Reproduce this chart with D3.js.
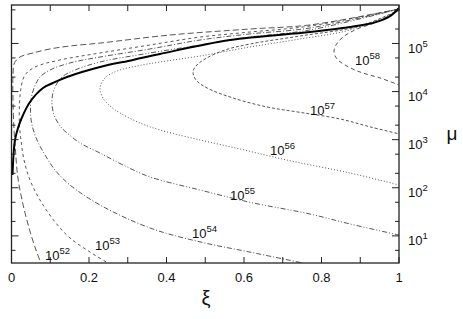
<!DOCTYPE html>
<html><head><meta charset="utf-8">
<script src="https://cdn.jsdelivr.net/npm/d3@7"></script>
<style>
html,body{margin:0;padding:0;background:#fff;}
svg text{font-family:"Liberation Sans",Arial,Helvetica,sans-serif;fill:#111;}
</style></head>
<body>
<svg id="c" width="463" height="319"></svg>
<script>
// ---- data (ξ, μ) ----
const thickXi = [0.0026,0.0052,0.009,0.0168,0.0263,0.0477,0.0813,0.1071,0.1432,0.2284,0.3135,0.3832,0.5639,0.7703,0.8735,0.9381,0.9768,1.0];
const thickMu = [185,481,986,1750,2825,6080,11880,15100,20100,32400,45400,60500,118000,173000,220000,275000,370000,547000];

const c58Xi = [1.0,0.9432,0.8916,0.8555,0.8374,0.8323,0.84,0.8606,0.8994,0.951,1.0];
const c58Mu = [497000,280000,200000,136000,93100,66500,47600,35700,25500,19200,13700];

const c57Xi = [1.0,0.8994,0.7445,0.6155,0.551,0.4994,0.4761,0.4684,0.4761,0.5045,0.5716,0.6594,0.7445,0.8477,0.9252,1.0];
const c57Mu = [497000,231000,143000,97600,73200,47600,34100,25500,17400,11900,7360,4790,3700,2700,1850,1320];

const c56Xi = [1.0,0.8735,0.7445,0.6155,0.4865,0.3832,0.3239,0.2723,0.2413,0.2284,0.2361,0.2542,0.28,0.3316,0.3832,0.4865,0.5897,0.6852,0.7445,0.8735,1.0];
const c56Mu = [474000,191000,124000,84600,54900,41200,34100,26800,19200,11900,7360,5030,3590,2220,1590,986,641,420,330,203,114];

const c55Xi = [1.0,0.7703,0.6155,0.4865,0.3574,0.2284,0.1639,0.1303,0.1148,0.1058,0.1045,0.1097,0.1252,0.1432,0.1768,0.2284,0.2929,0.3574,0.4865,0.6155,0.7703,0.8735,1.0];
const c55Mu = [521000,191000,136000,93100,63400,41200,28100,20100,13700,8490,5520,3270,1930,1380,853,528,284,168,89.9,50,28.5,17.7,10.4];

const c54Xi = [1.0,0.7703,0.6155,0.4865,0.3574,0.2284,0.151,0.0994,0.0735,0.0581,0.0503,0.049,0.0529,0.0658,0.0865,0.1123,0.151,0.2284,0.3574,0.4865,0.6155,0.752];
const c54Mu = [521000,210000,158000,118000,76900,52300,39400,28100,20100,11900,6680,3770,2020,986,481,234,114,43.9,14.6,7.5,4.6,2.73];

const c53Xi = [1.0,0.7703,0.6155,0.4865,0.3574,0.2284,0.1252,0.0606,0.0348,0.0245,0.0206,0.0206,0.0245,0.0323,0.0477,0.0735,0.1123,0.151,0.2026,0.249];
const c53Mu = [521000,231000,173000,136000,93100,63400,45400,32400,22100,11900,5260,2020,986,378,145,55.7,19.5,9.04,4.62,2.73];

const c52Xi = [1.0,0.7703,0.6155,0.409,0.2284,0.151,0.0994,0.0555,0.0219,0.0077,0.0039,0.0039,0.0065,0.0103,0.0155,0.0271,0.0452,0.0632,0.0761];
const c52Mu = [521000,243000,200000,150000,102000,88700,76900,63400,52300,39400,22100,6680,1590,611,185,55.7,14.6,5.09,2.73];

const curveExp = ["52","53","54","55","56","57","58"];
const labelXi = [0.0865,0.2155,0.4658,0.5639,0.6671,0.7703,0.8865];
const labelMu = [3.16,5.09,9.04,55.7,481,3270,35700];

const xTicks = [0,0.2,0.4,0.6,0.8,1];
const xTickLabels = ["0","0.2","0.4","0.6","0.8","1"];
const yTickExp = [1,2,3,4,5];

// ---- drawing ----
const svg = d3.select("#c");
const L=11.5, R=399, T=5, B=263;
const x = d3.scaleLinear().domain([0,1]).range([L,R]);
const y = d3.scaleLog().domain([2.73,631000]).range([B,T]);

svg.append("clipPath").attr("id","pc").append("rect")
  .attr("x",L).attr("y",T).attr("width",R-L).attr("height",B-T);

const curves = [
  {xi:c52Xi, mu:c52Mu, dash:"6,3"},
  {xi:c53Xi, mu:c53Mu, dash:"3,3"},
  {xi:c54Xi, mu:c54Mu, dash:"5,2,1,2"},
  {xi:c55Xi, mu:c55Mu, dash:"5,2,1,2,1,2"},
  {xi:c56Xi, mu:c56Mu, dash:"1,2"},
  {xi:c57Xi, mu:c57Mu, dash:"3,2"},
  {xi:c58Xi, mu:c58Mu, dash:"4,3"}
];
const line = d3.line().x(d=>x(d[0])).y(d=>y(d[1])).curve(d3.curveCatmullRom.alpha(0.5));
const g = svg.append("g").attr("clip-path","url(#pc)");
curves.forEach(c=>{
  g.append("path").attr("d", line(d3.zip(c.xi,c.mu)))
    .attr("fill","none").attr("stroke","#444").attr("stroke-width",0.9)
    .attr("stroke-dasharray",c.dash);
});
g.append("path").attr("d", line(d3.zip(thickXi,thickMu)))
  .attr("fill","none").attr("stroke","#000").attr("stroke-width",2);

// frame
svg.append("rect").attr("x",L).attr("y",T).attr("width",R-L).attr("height",B-T)
  .attr("fill","none").attr("stroke","#222").attr("stroke-width",1.3);

// x ticks (every 0.1, inward, mirrored)
const xt = d3.range(0,1.0001,0.1);
xt.forEach(v=>{
  svg.append("line").attr("x1",x(v)).attr("x2",x(v)).attr("y1",B).attr("y2",B-6).attr("stroke","#222");
  svg.append("line").attr("x1",x(v)).attr("x2",x(v)).attr("y1",T).attr("y2",T+6).attr("stroke","#222");
});
xTicks.forEach((v,i)=>{
  svg.append("text").attr("x",x(v)).attr("y",282).attr("text-anchor","middle")
    .attr("font-size",13).text(xTickLabels[i]);
});

// y ticks: log major + minor at 2,5
const yt=[];
for(let e=0;e<=5;e++){ [1,2,5].forEach(m=>{ const v=m*Math.pow(10,e); if(v>=2.73 && v<=631000) yt.push({v, major:m===1}); }); }
yt.forEach(t=>{
  const len = t.major?7:4;
  svg.append("line").attr("x1",L).attr("x2",L+len).attr("y1",y(t.v)).attr("y2",y(t.v)).attr("stroke","#222");
  svg.append("line").attr("x1",R).attr("x2",R-len).attr("y1",y(t.v)).attr("y2",y(t.v)).attr("stroke","#222");
});
yTickExp.forEach(e=>{
  const t = svg.append("text").attr("x",R+9).attr("y",y(Math.pow(10,e))+9.5).attr("font-size",13);
  t.append("tspan").text("10");
  t.append("tspan").attr("dy",-6).attr("font-size",9.5).text(String(e));
});

// curve labels
curveExp.forEach((e,i)=>{
  const t = svg.append("text").attr("x",x(labelXi[i])).attr("y",y(labelMu[i])).attr("font-size",13);
  t.append("tspan").text("10");
  t.append("tspan").attr("dy",-6).attr("font-size",9.5).text(e);
});

// axis titles
svg.append("text").attr("x",206).attr("y",305).attr("text-anchor","middle").attr("font-size",20)
  .attr("font-family","DejaVu Serif, serif").text("ξ");
svg.append("text").attr("x",452).attr("y",140).attr("text-anchor","middle").attr("font-size",19)
  .text("μ");
</script>
</body></html>
